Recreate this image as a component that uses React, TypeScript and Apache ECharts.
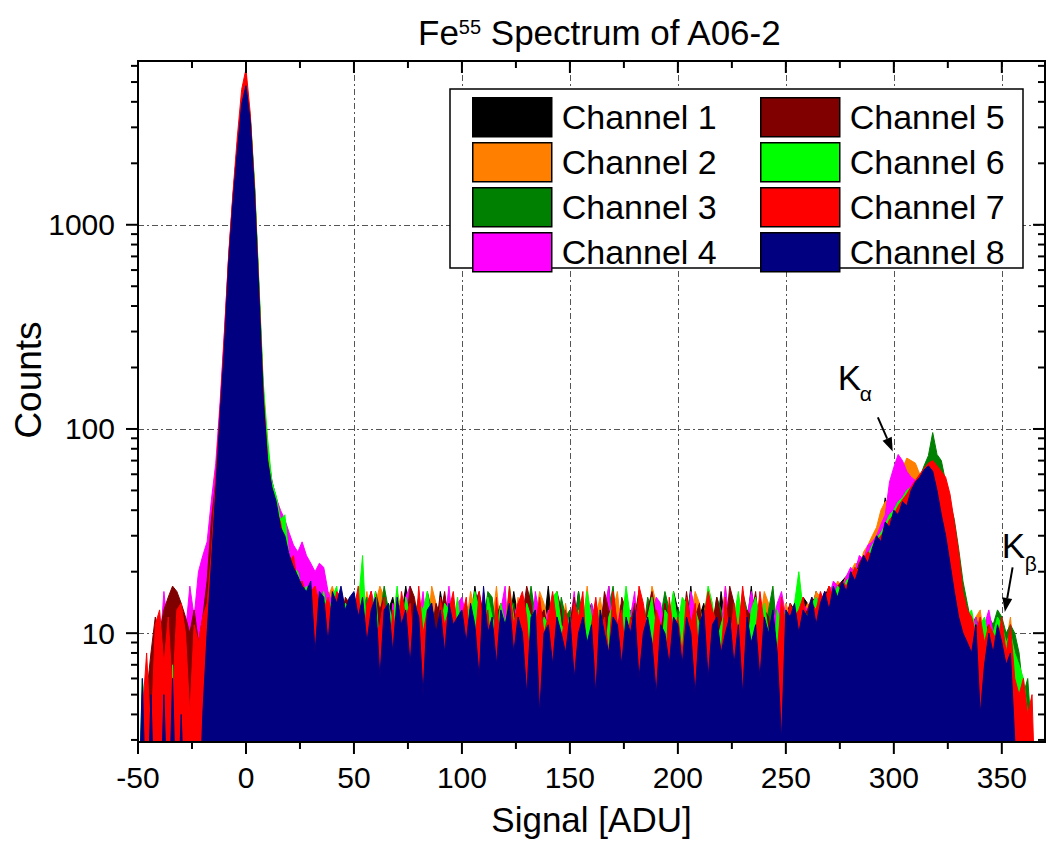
import React, { useEffect, useRef } from 'react';
import * as echarts from 'echarts';

const FONT = '"Liberation Sans", Arial, sans-serif';

// histogram bins: centre of first bin and bin width (ADU)
const BIN_START = -50;
const BIN_STEP = 2;

const channelNames = ['Channel 1', 'Channel 2', 'Channel 3', 'Channel 4', 'Channel 5', 'Channel 6', 'Channel 7', 'Channel 8'];
const channelColors = ['#000000', '#ff8000', '#008000', '#ff00ff', '#800000', '#00ff00', '#ff0000', '#000080'];

// counts per bin, bins -50 .. 370 step 2 (values of 1 = empty bin, below the axis)
const ch1 = [
  1,3,1,2,5,1,4,6,1,3,8,1,5,2,7,6,11,21,47,112,248,650,1310,2320,3920,
  4850,3300,1480,480,150,75,55,46,38,31,26,22,20,18,17,16,15,14,16,13,14,16,12,13,15,
  13,12,14,11,16,12,14,10,13,15,11,12,17,12,13,11,14,12,13,10,16,12,11,13,12,
  14,12,11,17,12,15,11,10,13,12,14,11,16,12,10,12,11,14,13,11,17,10,13,14,11,
  12,11,16,10,12,14,11,12,10,17,11,12,14,11,10,12,16,11,12,10,13,12,11,10,16,
  13,12,11,17,10,12,14,11,12,10,16,11,12,10,13,12,11,17,10,12,11,13,12,11,14,
  12,14,13,12,15,14,13,16,14,15,17,16,15,18,19,17,21,23,22,25,27,29,32,46,38,
  42,44,46,50,53,56,58,62,64,62,56,48,40,32,24,17,13,12,10,12,11,10,9,11,10,
  10,9,8,6,4,1,1,1,1,1,1,
];
const ch2 = [
  1,1,4,1,6,3,8,5,1,7,4,9,6,3,8,10,13,24,52,118,260,680,1350,2400,4000,
  4750,3250,1450,470,145,72,54,42,34,29,25,23,18,17,19,14,16,18,13,15,17,14,16,13,12,
  15,13,12,16,11,14,17,15,10,12,16,13,8,14,12,13,15,10,17,14,11,13,15,11,10,
  14,11,16,13,10,12,15,11,17,10,14,12,11,15,10,8,13,12,16,14,11,13,12,10,14,
  10,12,14,11,17,10,12,15,11,10,13,16,10,14,11,12,10,13,11,17,14,10,12,11,13,
  11,13,10,12,16,14,10,13,12,9,11,17,10,12,11,14,12,10,13,11,16,14,10,12,11,
  14,12,13,15,12,14,13,16,15,14,17,16,18,17,19,20,22,21,25,27,30,33,40,44,45,
  50,58,64,72,70,68,60,56,50,46,42,36,28,20,15,12,13,11,10,12,13,9,11,10,9,
  11,9,12,7,5,3,1,1,1,1,1,
];
const ch3 = [
  1,5,1,3,1,6,1,4,9,6,1,3,8,1,5,7,11,20,48,110,240,640,1280,2300,3800,
  4700,3300,1500,500,160,78,56,45,36,31,25,22,19,18,15,17,12,15,14,11,15,13,16,12,14,
  14,11,13,15,10,14,12,17,13,10,14,8,11,13,12,15,11,16,13,12,11,14,10,13,8,
  11,13,10,12,14,11,16,15,10,11,12,10,14,8,13,12,17,12,11,13,9,12,10,15,12,
  13,10,16,12,14,10,12,9,11,13,17,10,12,9,13,11,12,10,15,13,10,12,16,13,10,
  13,11,12,16,11,13,9,12,10,15,13,11,8,12,9,16,13,10,12,11,10,13,17,10,12,
  12,13,11,14,12,13,14,12,13,15,14,16,15,17,16,18,19,21,22,24,26,27,30,33,35,
  38,40,43,45,48,52,58,66,74,96,75,70,55,44,36,26,18,14,11,12,10,8,12,11,13,
  12,10,11,10,8,5,6,3,1,1,1,
];
const ch4 = [
  1,1,3,6,9,8,16,10,12,9,11,10,17,12,20,24,28,45,68,135,300,700,1400,2500,4200,
  4600,3300,1450,470,150,74,55,46,40,36,31,27,25,28,24,22,20,22,21,16,14,13,15,14,12,
  11,14,13,10,16,12,9,13,8,14,12,10,15,17,13,11,16,10,14,9,13,11,17,10,14,
  15,12,8,13,11,16,9,12,10,13,17,8,12,14,10,13,9,16,12,10,13,11,14,12,9,
  11,16,10,12,9,14,11,8,13,17,9,11,14,10,12,16,8,13,10,12,15,14,10,9,12,
  10,12,9,16,13,10,12,11,9,13,10,17,11,10,14,9,12,16,13,10,12,9,11,14,16,
  12,11,13,12,14,13,12,15,14,16,15,18,17,16,19,21,20,24,23,27,28,30,34,38,55,
  65,75,70,62,58,56,52,48,44,40,34,28,22,17,13,11,10,13,10,12,9,11,13,10,8,
  9,6,7,4,3,1,1,1,1,1,1,
];
const ch5 = [
  1,1,5,8,12,10,13,15,17,16,14,12,10,13,9,12,18,36,55,120,270,690,1380,2450,4100,
  4650,3150,1420,460,145,71,51,43,34,30,24,22,18,16,15,14,16,13,15,12,14,13,11,15,14,
  12,13,9,14,12,16,13,15,8,12,13,14,10,17,15,11,9,12,10,14,12,16,11,8,13,
  12,9,13,14,16,12,11,8,12,14,10,15,13,11,12,17,14,9,12,13,10,11,16,13,8,
  11,15,10,13,8,11,14,10,16,13,11,9,15,13,11,14,7,10,13,16,12,10,14,11,9,
  12,10,16,11,12,14,8,12,11,15,12,10,17,14,9,10,13,12,16,10,13,12,8,12,10,
  11,13,12,14,12,13,15,14,13,16,15,14,17,18,16,20,19,22,24,23,26,29,28,33,36,
  38,41,44,47,50,54,57,60,62,64,58,50,42,34,26,18,13,11,10,11,9,10,11,9,10,
  9,8,7,5,3,1,1,1,1,1,1,
];
const ch6 = [
  1,6,4,1,3,1,5,1,7,1,3,5,1,4,6,9,12,21,46,112,245,660,1320,2350,3950,
  4900,3400,1600,520,170,90,55,47,36,38,23,21,20,16,17,15,14,13,16,12,15,17,12,14,13,
  12,14,24,9,13,16,8,12,14,11,17,10,15,12,7,14,13,16,11,8,10,14,13,11,15,
  9,14,12,16,13,8,15,12,10,14,11,17,12,10,7,14,12,13,8,12,11,15,16,11,10,
  12,8,13,11,16,12,10,13,7,12,14,10,11,17,12,8,14,11,12,15,10,7,13,12,16,
  11,15,14,8,13,11,12,17,14,9,11,13,10,12,16,11,8,13,15,11,14,10,7,13,11,
  13,12,14,20,13,12,14,15,13,14,16,15,17,16,18,19,21,20,22,24,27,29,31,34,38,
  40,44,46,50,52,54,57,60,62,64,60,52,46,38,30,22,14,12,13,10,11,12,9,10,12,
  11,9,10,8,7,6,4,1,1,1,1,
];
const ch7 = [
  1,4,8,3,11,13,7,12,5,13,14,10,4,11,9,12,14,25,58,125,290,720,1450,2700,4600,
  5800,3500,1500,480,150,72,50,40,35,26,22,24,17,18,15,16,17,14,13,15,12,16,15,11,14,
  13,17,8,14,16,10,11,15,7,13,9,16,12,14,8,17,10,13,12,7,15,11,13,16,10,
  12,15,8,9,16,10,13,7,15,8,10,17,11,14,16,12,6,11,15,10,12,16,11,9,13,
  10,14,12,16,7,11,15,10,12,8,16,11,13,7,12,9,17,14,10,8,13,11,6,15,10,
  12,8,15,11,14,7,12,16,13,11,8,15,9,14,10,17,11,7,10,16,11,9,12,8,15,
  11,14,12,13,15,11,14,13,16,14,17,15,14,18,17,19,21,20,23,25,24,28,30,32,36,
  38,42,45,48,52,56,60,64,68,70,66,62,58,48,35,25,16,13,12,10,12,9,11,10,9,
  12,8,11,6,5,6,4,5,1,1,1,
];
const ch8 = [
  1,6,1,5,1,1,5,1,6,1,4,1,1,1,1,4,10,22,50,115,250,650,1300,2300,3900,
  4800,3200,1400,450,140,70,52,44,33,30,24,21,19,17,16,18,8,16,15,9,16,14,17,13,15,
  16,12,15,9,13,15,6,13,14,8,15,11,13,7,14,12,5,13,14,10,13,8,14,11,12,
  13,9,14,11,6,17,10,12,7,13,11,14,8,12,10,5,12,13,4,10,11,7,12,10,8,
  12,6,10,12,9,11,5,13,10,8,12,11,7,12,10,13,6,10,12,9,5,11,10,7,12,
  11,7,12,10,5,11,13,6,11,12,8,10,12,7,11,5,12,9,11,6,12,10,13,8,3,
  13,12,14,10,13,12,15,11,14,16,13,17,15,18,16,20,18,21,24,22,26,30,28,35,33,
  40,38,44,42,50,55,58,63,66,62,50,38,30,22,16,12,10,9,8,11,4,7,10,8,11,
  9,7,8,3,1,1,1,1,1,1,1,
];
const channels = [ch1, ch2, ch3, ch4, ch5, ch6, ch7, ch8];

// axes
const X_MIN = -50;
const X_MAX = 370;
const X_LABEL_STEP = 50;
const Y_MIN = 2.931;
const Y_MAX = 6339;
const xTickValues = [-50, -25, 0, 25, 50, 75, 100, 125, 150, 175, 200, 225, 250, 275, 300, 325, 350];
const xMajorTicks = [-50, 0, 50, 100, 150, 200, 250, 300, 350];
const yTickValues = [3, 4, 5, 6, 7, 8, 9, 10, 20, 30, 40, 50, 60, 70, 80, 90, 100, 200, 300, 400, 500, 600, 700, 800, 900, 1000, 2000, 3000, 4000, 5000, 6000];
const yMajorTicks = [10, 100, 1000];

// annotations (data coordinates of arrow tail and head)
const kAlphaTail = [292.6, 114];
const kAlphaHead = [299.5, 77.6];
const kBetaTail = [355, 21];
const kBetaHead = [351.4, 12.7];

const splitStyle = { type: [6, 3, 2, 3], color: '#555', width: 1 };

function arrow(chart: any, tail: number[], head: number[]) {
  const t = chart.convertToPixel({ xAxisIndex: 0, yAxisIndex: 0 }, tail);
  const h = chart.convertToPixel({ xAxisIndex: 0, yAxisIndex: 0 }, head);
  const dx = h[0] - t[0];
  const dy = h[1] - t[1];
  const len = Math.sqrt(dx * dx + dy * dy);
  const ux = dx / len;
  const uy = dy / len;
  const hl = 14;
  const hw = 5;
  const bx = h[0] - ux * hl;
  const by = h[1] - uy * hl;
  return {
    head: h,
    els: [
      { type: 'line', z: 30, shape: { x1: t[0], y1: t[1], x2: bx, y2: by }, style: { stroke: '#000', lineWidth: 2 } },
      {
        type: 'polygon', z: 30,
        shape: { points: [[h[0], h[1]], [bx - uy * hw, by + ux * hw], [bx + uy * hw, by - ux * hw]] },
        style: { fill: '#000' },
      },
    ],
  };
}

export default function App() {
  const ref = useRef<HTMLDivElement>(null);

  useEffect(() => {
    document.body.style.margin = '0';
    const chart = echarts.init(ref.current as HTMLDivElement, null, { renderer: 'svg' });

    const series: any[] = channels.map((vals, k) => ({
      name: channelNames[k],
      type: 'line',
      data: vals.map((v, i) => [BIN_START + i * BIN_STEP, v]),
      symbol: 'none',
      showSymbol: false,
      silent: true,
      lineStyle: { color: channelColors[k], width: 1 },
      itemStyle: { color: channelColors[k] },
      areaStyle: { color: channelColors[k], opacity: 1, origin: 'start' },
      z: 2 + k,
    }));

    const frameData: number[][] = [
      ...xTickValues.map((v) => [v, 10, xMajorTicks.includes(v) ? 1 : 0, 0]),
      ...yTickValues.map((v) => [0, v, yMajorTicks.includes(v) ? 1 : 0, 1]),
      [0, 10, 0, 2],
    ];

    series.push({
      type: 'custom',
      silent: true,
      z: 20,
      clip: false,
      data: frameData,
      renderItem: (params: any, api: any) => {
        const cs = params.coordSys;
        const kind = api.value(3);
        const st = { stroke: '#000', lineWidth: 2 };
        if (kind === 2) {
          return { type: 'rect', shape: { x: cs.x, y: cs.y, width: cs.width, height: cs.height }, style: { fill: 'none', stroke: '#000', lineWidth: 2 } };
        }
        const p = api.coord([api.value(0), api.value(1)]);
        const len = api.value(2) ? 12 : 7;
        if (kind === 0) {
          const b = cs.y + cs.height;
          return {
            type: 'group',
            children: [
              { type: 'line', shape: { x1: p[0], y1: b, x2: p[0], y2: b + len }, style: st },
              { type: 'line', shape: { x1: p[0], y1: cs.y, x2: p[0], y2: cs.y + len }, style: st },
            ],
          };
        }
        const r = cs.x + cs.width;
        return {
          type: 'group',
          children: [
            { type: 'line', shape: { x1: cs.x - len, y1: p[1], x2: cs.x, y2: p[1] }, style: st },
            { type: 'line', shape: { x1: r - len, y1: p[1], x2: r, y2: p[1] }, style: st },
          ],
        };
      },
    });

    const legendCommon: any = {
      orient: 'vertical',
      itemWidth: 79,
      itemHeight: 39,
      itemGap: 4.5,
      padding: 0,
      icon: 'rect',
      selectedMode: false,
      z: 25,
      itemStyle: { borderColor: '#000', borderWidth: 1.5 },
      textStyle: { fontSize: 34, fontFamily: FONT, color: '#000', padding: [0, 0, 0, 5] },
    };

    chart.setOption({
      animation: false,
      backgroundColor: '#fff',
      title: {
        left: 413,
        top: 7,
        text: '{a|Fe}{b|55}{a| Spectrum of A06-2}',
        textStyle: {
          fontWeight: 'normal',
          rich: {
            a: { fontSize: 35, fontFamily: FONT, fontWeight: 'normal', color: '#000', lineHeight: 40 },
            b: { fontSize: 20, fontFamily: FONT, fontWeight: 'normal', color: '#000', lineHeight: 20, verticalAlign: 'top', padding: [5, 0, 0, 0] },
          },
        },
      },
      legend: [
        { ...legendCommon, left: 472, top: 97, data: channelNames.slice(0, 4) },
        { ...legendCommon, left: 760, top: 97, data: channelNames.slice(4) },
      ],
      grid: { left: 138, top: 61, width: 908, height: 682, containLabel: false },
      xAxis: {
        type: 'value',
        min: X_MIN,
        max: X_MAX,
        interval: X_LABEL_STEP,
        name: 'Signal [ADU]',
        nameLocation: 'middle',
        nameGap: 60,
        nameTextStyle: { fontSize: 35, fontFamily: FONT, color: '#000' },
        axisLine: { show: false },
        axisTick: { show: false },
        axisLabel: {
          margin: 20,
          fontSize: 30,
          fontFamily: FONT,
          color: '#000',
          formatter: (v: number) => (v % X_LABEL_STEP === 0 ? String(v) : ''),
        },
        splitLine: { show: true, lineStyle: splitStyle },
      },
      yAxis: {
        type: 'log',
        logBase: 10,
        min: Y_MIN,
        max: Y_MAX,
        axisLine: { show: false },
        axisTick: { show: false },
        axisLabel: {
          margin: 23,
          fontSize: 30,
          fontFamily: FONT,
          color: '#000',
          formatter: (v: number) => {
            const l = Math.log10(v);
            return Math.abs(l - Math.round(l)) < 1e-6 && v >= 9 ? String(Math.round(v)) : '';
          },
        },
        splitLine: { show: true, lineStyle: splitStyle },
      },
      series,
    });

    const a = arrow(chart, kAlphaTail, kAlphaHead);
    const b = arrow(chart, kBetaTail, kBetaHead);
    const txt = (x: number, y: number, s: string, size: number) => ({
      type: 'text', z: 30, x, y,
      style: { text: s, fontSize: size, fontFamily: FONT, fill: '#000', align: 'left', verticalAlign: 'middle' },
    });

    chart.setOption({
      graphic: [
        {
          type: 'rect', z: 22,
          shape: { x: 450, y: 89, width: 573, height: 179 },
          style: { fill: '#fff', stroke: '#000', lineWidth: 1.5 },
        },
        {
          type: 'text', z: 30, x: 28, y: 380, rotation: Math.PI / 2,
          style: { text: 'Counts', fontSize: 37, fontFamily: FONT, fill: '#000', align: 'center', verticalAlign: 'middle' },
        },
        ...a.els,
        ...b.els,
        txt(a.head[0] - 55, a.head[1] - 74, 'K', 35),
        txt(a.head[0] - 33, a.head[1] - 58, 'α', 21),
        txt(b.head[0] - 3, b.head[1] - 66, 'K', 35),
        txt(b.head[0] + 20, b.head[1] - 48, 'β', 21),
      ],
    });

    return () => chart.dispose();
  }, []);

  return <div ref={ref} style={{ width: 1048, height: 842 }} />;
}
